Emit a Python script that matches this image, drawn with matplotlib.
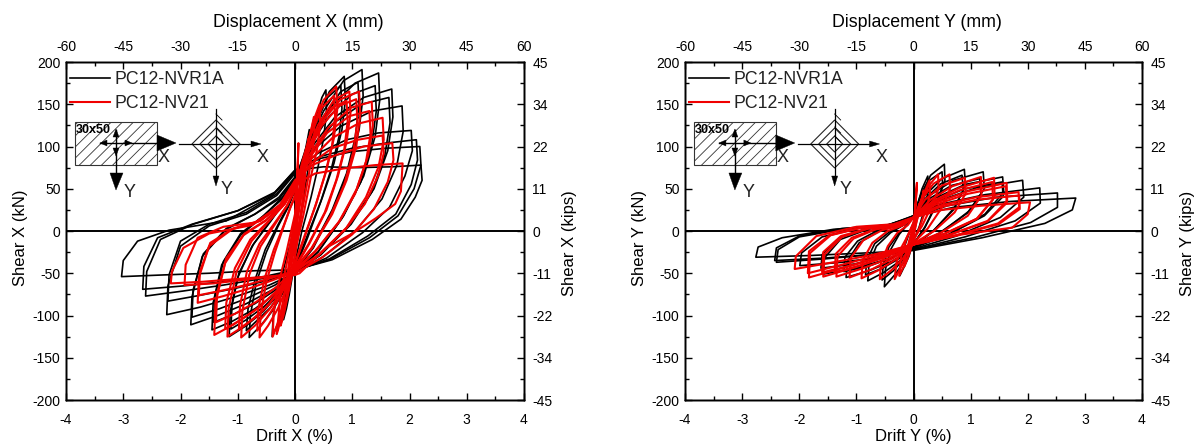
import matplotlib
matplotlib.use('Agg')
import matplotlib.pyplot as plt
from matplotlib.patches import Rectangle, Polygon

plt.rcParams['font.family'] = ['Liberation Sans', 'DejaVu Sans']
plt.rcParams['axes.unicode_minus'] = False
plt.rcParams['hatch.linewidth'] = 0.6
plt.rcParams['hatch.color'] = '#555555'

series_names = ['PC12-NVR1A', 'PC12-NV21']
drift_ticks = [-4, -3, -2, -1, 0, 1, 2, 3, 4]
disp_ticks = [-60, -45, -30, -15, 0, 15, 30, 45, 60]
shear_ticks = [-200, -150, -100, -50, 0, 50, 100, 150, 200]
kips_labels = ['-45', '-34', '-22', '-11', '0', '11', '22', '34', '45']

# hysteresis loops, one row per cycle
drift_x_black = [
    [0, -.05, -.1, -.15, -.2, -.17, -.12, -.05, 0, .05, .1, .18, .25, .27, .22, .15, .08, 0],
    [0, -.1, -.2, -.3, -.4, -.38, -.3, -.18, -.07, 0, .1, .22, .35, .47, .54, .55, .5, .4, .28, .12, 0],
    [0, -.2, -.4, -.6, -.8, -.78, -.68, -.5, -.3, -.12, 0, .15, .35, .6, .86, .88, .82, .68, .48, .22, 0],
    [0, -.2, -.42, -.65, -.85, -.82, -.7, -.52, -.3, -.12, 0, .15, .33, .57, .8, .82, .77, .64, .45, .2, 0],
    [0, -.25, -.55, -.85, -1.15, -1.13, -1, -.75, -.45, -.18, 0, .2, .5, .85, 1.17, 1.19, 1.12, .95, .68, .32, 0],
    [0, -.25, -.55, -.85, -1.12, -1.1, -.98, -.72, -.42, -.18, 0, .2, .48, .8, 1.1, 1.12, 1.05, .9, .65, .3, 0],
    [0, -.3, -.7, -1.1, -1.45, -1.43, -1.28, -.95, -.55, -.22, 0, .25, .6, 1.05, 1.46, 1.48, 1.4, 1.2, .85, .4, 0],
    [0, -.3, -.7, -1.05, -1.42, -1.4, -1.25, -.95, -.55, -.22, 0, .25, .6, 1, 1.4, 1.42, 1.34, 1.15, .82, .4, 0],
    [0, -.35, -.85, -1.35, -1.82, -1.8, -1.62, -1.2, -.7, -.28, 0, .3, .7, 1.2, 1.69, 1.71, 1.62, 1.38, .98, .45, 0],
    [0, -.35, -.85, -1.32, -1.8, -1.78, -1.6, -1.2, -.7, -.28, 0, .3, .68, 1.16, 1.64, 1.66, 1.57, 1.34, .95, .45, 0],
    [0, -.45, -1.05, -1.65, -2.24, -2.22, -2, -1.5, -.85, -.32, 0, .35, .8, 1.35, 1.87, 1.89, 1.78, 1.52, 1.08, .5, 0],
    [0, -.45, -1.05, -1.65, -2.22, -2.2, -2, -1.5, -.85, -.32, 0, .4, .9, 1.45, 2.03, 2.05, 1.92, 1.65, 1.18, .55, 0],
    [0, -.55, -1.25, -1.95, -2.66, -2.64, -2.4, -1.8, -1, -.35, 0, .45, 1, 1.6, 2.18, 2.2, 2.08, 1.8, 1.3, .6, 0],
    [0, -.55, -1.25, -1.95, -2.61, -2.59, -2.35, -1.78, -1, -.35, 0, .43, 1, 1.58, 2.12, 2.14, 2.03, 1.76, 1.27, .6, 0],
    [0, -.7, -1.5, -2.3, -3.03, -3, -2.75, -2.2, -1.2, -.4, 0, .5, 1.1, 1.7, 2.2, 2.22, 2.1, 1.85, 1.35, .65, 0],
]
shear_x_black = [
    [-30, -55, -75, -92, -105, -75, -50, -20, 5, 35, 60, 95, 120, 100, 70, 40, 10, -30],
    [-38, -65, -90, -110, -125, -100, -70, -40, -12, 12, 50, 92, 130, 158, 167, 140, 110, 75, 40, 0, -38],
    [-45, -72, -95, -112, -126, -100, -62, -25, 5, 28, 48, 85, 125, 165, 183, 155, 120, 80, 40, -8, -45],
    [-42, -68, -90, -105, -118, -92, -58, -22, 7, 30, 50, 84, 122, 158, 172, 145, 112, 75, 35, -8, -42],
    [-48, -72, -95, -112, -125, -95, -55, -18, 10, 35, 58, 100, 142, 178, 191, 160, 120, 75, 28, -20, -48],
    [-46, -70, -90, -105, -116, -88, -50, -15, 12, 35, 56, 95, 134, 165, 176, 148, 110, 68, 25, -20, -46],
    [-50, -72, -92, -107, -117, -85, -40, -5, 18, 40, 62, 105, 145, 175, 187, 155, 112, 65, 18, -25, -50],
    [-48, -68, -86, -98, -108, -78, -36, -3, 18, 38, 60, 100, 136, 162, 172, 142, 102, 58, 15, -25, -48],
    [-50, -68, -86, -100, -111, -78, -30, 2, 20, 40, 64, 100, 135, 158, 168, 135, 95, 50, 8, -28, -50],
    [-48, -64, -80, -92, -102, -70, -27, 3, 20, 38, 62, 96, 128, 150, 158, 128, 90, 46, 7, -28, -48],
    [-50, -64, -78, -90, -99, -65, -18, 6, 20, 42, 68, 98, 124, 142, 148, 118, 78, 38, 2, -30, -50],
    [-48, -58, -68, -76, -83, -52, -12, 8, 22, 44, 70, 92, 108, 116, 119, 95, 65, 28, -2, -32, -48],
    [-46, -54, -60, -65, -69, -42, -8, 8, 24, 46, 72, 86, 94, 98, 100, 78, 50, 18, -8, -34, -46],
    [-47, -56, -64, -71, -77, -48, -10, 8, 24, 45, 71, 88, 98, 104, 108, 84, 55, 20, -6, -33, -47],
    [-46, -47, -50, -52, -54, -35, -12, 1, 12, 42, 72, 76, 75, 76, 78, 60, 40, 14, -10, -34, -46],
]
drift_x_red = [
    [0, -.04, -.08, -.05, 0, .05, .1, .12, .08, .03, 0],
    [0, -.05, -.1, -.15, -.12, -.06, 0, .05, .1, .16, .18, .12, .06, 0],
    [0, -.06, -.12, -.2, -.25, -.2, -.12, -.05, 0, .06, .14, .2, .24, .2, .12, .05, 0],
    [0, -.1, -.2, -.3, -.32, -.25, -.12, 0, .1, .22, .33, .34, .25, .12, 0],
    [0, .06, .04, 0, -.08, -.18, -.28, -.39, -.37, -.28, -.15, -.05, 0, .1, .2, .32, .43, .44, .38, .28, .15, 0],
    [0, -.15, -.3, -.47, -.62, -.6, -.5, -.35, -.2, -.08, 0, .12, .28, .5, .72, .74, .68, .55, .38, .18, 0],
    [0, -.16, -.33, -.5, -.66, -.64, -.53, -.37, -.2, -.08, 0, .12, .27, .47, .68, .7, .65, .52, .36, .17, 0],
    [0, -.22, -.45, -.7, -.94, -.92, -.8, -.6, -.35, -.14, 0, .17, .4, .68, .95, .97, .9, .75, .55, .25, 0],
    [0, -.23, -.47, -.73, -.98, -.96, -.84, -.62, -.36, -.14, 0, .16, .38, .64, .9, .92, .86, .72, .52, .24, 0],
    [0, -.27, -.57, -.88, -1.18, -1.16, -1.02, -.76, -.45, -.18, 0, .2, .48, .8, 1.12, 1.14, 1.07, .9, .65, .3, 0],
    [0, -.28, -.6, -.92, -1.22, -1.2, -1.05, -.78, -.46, -.18, 0, .2, .46, .77, 1.07, 1.09, 1.02, .86, .62, .29, 0],
    [0, -.32, -.7, -1.08, -1.41, -1.39, -1.22, -.9, -.52, -.2, 0, .25, .58, .98, 1.34, 1.36, 1.28, 1.08, .78, .36, 0],
    [0, -.32, -.68, -1.05, -1.38, -1.36, -1.2, -.88, -.5, -.2, 0, .25, .56, .95, 1.3, 1.32, 1.24, 1.05, .76, .35, 0],
    [0, -.38, -.8, -1.25, -1.7, -1.68, -1.5, -1.1, -.62, -.25, 0, .28, .65, 1.1, 1.53, 1.55, 1.46, 1.24, .9, .42, 0],
    [0, -.38, -.8, -1.24, -1.68, -1.66, -1.48, -1.08, -.6, -.25, 0, .28, .65, 1.1, 1.53, 1.55, 1.45, 1.22, .88, .42, 0],
    [0, -.42, -.92, -1.42, -1.93, -1.91, -1.7, -1.25, -.7, -.27, 0, .3, .72, 1.2, 1.7, 1.72, 1.62, 1.38, 1, .46, 0],
    [0, -.5, -1.05, -1.6, -2.17, -2.15, -1.95, -1.5, -.75, -.28, 0, .35, .85, 1.4, 1.88, 1.85, 1.75, 1.41, 1, .54, .08, 0],
]
shear_x_red = [
    [-5, -25, -40, -15, 15, 40, 55, 65, 35, 10, -5],
    [-15, -35, -55, -72, -45, -15, 10, 35, 60, 85, 65, 30, 5, -15],
    [-30, -55, -75, -100, -112, -80, -50, -20, 5, 32, 70, 95, 110, 80, 45, 15, -30],
    [-28, -62, -92, -118, -122, -75, -30, 15, 55, 100, 135, 112, 70, 22, -28],
    [-25, 104, 60, 15, -35, -75, -105, -125, -95, -60, -25, 5, 20, 60, 95, 130, 150, 125, 95, 65, 20, -25],
    [-40, -68, -92, -112, -126, -98, -60, -25, 5, 28, 42, 80, 118, 155, 171, 145, 110, 72, 35, -5, -40],
    [-38, -64, -86, -104, -118, -92, -56, -22, 6, 28, 40, 76, 112, 146, 160, 136, 102, 66, 30, -5, -38],
    [-44, -70, -93, -112, -126, -95, -52, -18, 8, 30, 50, 88, 125, 155, 165, 140, 105, 65, 25, -15, -44],
    [-42, -66, -88, -104, -116, -88, -48, -15, 9, 30, 48, 84, 118, 146, 154, 130, 96, 60, 22, -15, -42],
    [-46, -72, -95, -112, -125, -92, -48, -12, 12, 32, 54, 92, 130, 156, 165, 138, 100, 60, 20, -20, -46],
    [-44, -68, -89, -104, -116, -85, -44, -10, 12, 32, 52, 88, 124, 148, 156, 130, 94, 55, 18, -20, -44],
    [-48, -72, -94, -111, -123, -85, -38, -5, 12, 32, 56, 90, 122, 146, 153, 125, 90, 50, 12, -24, -48],
    [-46, -66, -84, -98, -108, -74, -32, -3, 13, 32, 54, 86, 116, 136, 142, 115, 82, 44, 10, -24, -46],
    [-48, -58, -68, -77, -85, -55, -18, 2, 12, 32, 58, 85, 110, 127, 134, 108, 76, 40, 4, -28, -48],
    [-47, -55, -63, -70, -76, -48, -14, 3, 12, 31, 56, 80, 98, 108, 113, 92, 65, 32, 2, -28, -47],
    [-50, -54, -58, -62, -64, -40, -8, 5, 10, 30, 60, 78, 90, 100, 104, 84, 58, 26, -4, -32, -50],
    [-52, -54, -57, -60, -62, -48, -20, -3, 7, 27, 55, 68, 74, 78, 80, 47, 32, 15, -3, -20, -50, -52],
]
drift_y_black = [
    [0, -.08, -.16, -.24, -.22, -.14, -.06, 0, .06, .15, .25, .26, .2, .1, 0],
    [0, -.16, -.33, -.51, -.49, -.4, -.25, -.1, 0, .12, .3, .54, .55, .42, .2, 0],
    [0, -.17, -.35, -.55, -.53, -.43, -.26, -.1, 0, .11, .28, .5, .51, .4, .2, 0],
    [0, -.25, -.52, -.8, -.78, -.65, -.4, -.15, 0, .2, .5, .89, .91, .72, .35, 0],
    [0, -.26, -.54, -.84, -.82, -.68, -.42, -.15, 0, .2, .48, .85, .87, .7, .34, 0],
    [0, -.38, -.78, -1.18, -1.16, -.95, -.6, -.22, 0, .28, .7, 1.22, 1.24, .98, .48, 0],
    [0, -.39, -.8, -1.22, -1.2, -.98, -.62, -.22, 0, .27, .67, 1.16, 1.18, .94, .46, 0],
    [0, -.5, -1, -1.58, -1.56, -1.28, -.8, -.3, 0, .35, .9, 1.56, 1.58, 1.25, .62, 0],
    [0, -.52, -1.03, -1.62, -1.6, -1.3, -.82, -.3, 0, .35, .9, 1.55, 1.57, 1.24, .62, 0],
    [0, -.6, -1.25, -1.99, -1.96, -1.6, -1, -.38, 0, .45, 1.1, 1.91, 1.93, 1.52, .75, 0],
    [0, -.75, -1.55, -2.43, -2.4, -2, -1.25, -.45, 0, .5, 1.25, 2.21, 2.22, 1.78, .9, 0],
    [0, -.75, -1.55, -2.4, -2.37, -2, -1.25, -.45, 0, .6, 1.45, 2.52, 2.52, 2.05, 1.05, 0],
    [0, -.85, -1.8, -2.76, -2.72, -2.3, -1.4, -.5, 0, .7, 1.7, 2.84, 2.78, 2.3, 1.2, 0],
]
shear_y_black = [
    [-12, -30, -42, -53, -35, -15, 0, 10, 28, 50, 65, 48, 28, 5, -12],
    [-16, -36, -52, -66, -45, -22, -4, 8, 18, 42, 66, 79, 60, 35, 5, -16],
    [-15, -33, -47, -58, -40, -19, -3, 8, 17, 38, 60, 70, 54, 31, 4, -15],
    [-18, -36, -49, -59, -40, -18, -2, 8, 18, 42, 62, 73, 54, 28, 0, -18],
    [-17, -33, -44, -52, -35, -15, -1, 8, 17, 38, 56, 66, 48, 25, 0, -17],
    [-20, -36, -47, -55, -36, -14, 0, 8, 18, 42, 60, 70, 50, 24, -2, -20],
    [-19, -32, -42, -48, -31, -12, 1, 8, 17, 38, 54, 62, 44, 21, -2, -19],
    [-20, -34, -44, -51, -32, -10, 2, 8, 18, 38, 55, 64, 46, 20, -4, -20],
    [-19, -30, -39, -44, -28, -8, 3, 8, 17, 35, 50, 58, 41, 18, -4, -19],
    [-21, -31, -37, -41, -26, -7, 3, 8, 18, 36, 51, 60, 40, 16, -6, -21],
    [-22, -28, -32, -35, -20, -6, 3, 7, 18, 32, 43, 51, 33, 12, -7, -22],
    [-22, -28, -33, -37, -22, -7, 2, 7, 17, 30, 40, 45, 28, 10, -8, -22],
    [-23, -26, -29, -31, -19, -8, 2, 6, 17, 28, 35, 39, 25, 9, -8, -23],
]
drift_y_red = [
    [0, -.03, -.07, -.1, -.07, 0, .04, .08, .1, .07, .03, 0],
    [0, -.05, -.1, -.16, -.13, -.06, 0, .05, .1, .16, .18, .12, .05, 0],
    [0, -.1, -.18, -.25, -.22, -.12, 0, .1, .18, .28, .29, .2, .1, 0],
    [0, .06, .04, 0, -.1, -.2, -.33, -.3, -.2, -.08, 0, .1, .25, .43, .44, .32, .15, 0],
    [0, -.18, -.38, -.59, -.57, -.45, -.28, -.1, 0, .15, .35, .63, .64, .5, .25, 0],
    [0, -.3, -.6, -.91, -.89, -.72, -.45, -.17, 0, .2, .5, .9, .91, .72, .36, 0],
    [0, -.35, -.72, -1.12, -1.1, -.88, -.55, -.2, 0, .28, .68, 1.18, 1.19, .95, .48, 0],
    [0, -.42, -.88, -1.35, -1.33, -1.05, -.66, -.25, 0, .33, .8, 1.41, 1.42, 1.12, .55, 0],
    [0, -.43, -.9, -1.38, -1.36, -1.08, -.68, -.25, 0, .33, .8, 1.38, 1.39, 1.1, .55, 0],
    [0, -.5, -1.02, -1.58, -1.56, -1.25, -.78, -.3, 0, .38, .95, 1.63, 1.64, 1.3, .65, 0],
    [0, -.51, -1.04, -1.6, -1.58, -1.27, -.8, -.3, 0, .38, .95, 1.62, 1.63, 1.29, .65, 0],
    [0, -.58, -1.2, -1.83, -1.81, -1.45, -.9, -.35, 0, .45, 1.1, 1.84, 1.85, 1.48, .75, 0],
    [0, -.58, -1.2, -1.85, -1.83, -1.47, -.92, -.35, 0, .45, 1.1, 1.85, 1.86, 1.49, .75, 0],
    [0, -.7, -1.4, -2.08, -2.06, -1.7, -1, -.35, 0, .5, 1.2, 2.04, 2, 1.73, .86, 0],
]
shear_y_red = [
    [-3, -12, -22, -28, -12, 3, 14, 24, 32, 16, 5, -3],
    [-8, -22, -32, -42, -25, -8, 5, 18, 30, 42, 48, 28, 10, -8],
    [-11, -30, -43, -53, -32, -8, 10, 28, 44, 60, 43, 22, 3, -11],
    [-10, 57, 35, 8, -22, -40, -57, -38, -18, -3, 8, 28, 52, 67, 50, 30, 6, -10],
    [-14, -32, -46, -57, -38, -18, -2, 7, 16, 38, 56, 67, 50, 28, 3, -14],
    [-15, -33, -46, -56, -35, -14, 0, 7, 16, 37, 54, 63, 44, 22, 0, -15],
    [-15, -32, -45, -55, -32, -11, 1, 7, 16, 36, 53, 64, 42, 18, -2, -15],
    [-16, -32, -44, -54, -30, -9, 2, 7, 16, 35, 51, 63, 40, 15, -3, -16],
    [-15, -29, -40, -49, -27, -8, 2, 7, 15, 33, 48, 58, 37, 14, -3, -15],
    [-16, -31, -43, -54, -28, -7, 3, 7, 16, 33, 47, 57, 36, 12, -4, -16],
    [-15, -28, -40, -49, -25, -6, 3, 7, 15, 31, 44, 53, 33, 11, -4, -15],
    [-16, -31, -43, -55, -26, -5, 4, 7, 16, 30, 40, 46, 28, 9, -5, -16],
    [-15, -28, -39, -50, -24, -5, 4, 7, 15, 28, 37, 42, 26, 8, -5, -15],
    [-16, -28, -37, -45, -30, -6, 5, 8, 16, 25, 30, 34, 20, 4, -4, -16],
]


def to_axes(px, py):
    # inset was laid out in pixels of the left panel
    return (px - 66) / 458, (400 - py) / 338


def draw_inset(ax):
    t = ax.transAxes
    x0, y0 = to_axes(75, 165)
    x1, y1 = to_axes(157, 122)
    ax.add_patch(Rectangle((x0, y0), x1 - x0, y1 - y0, transform=t, fc='white', ec='#333333',
                           lw=0.8, hatch='///', zorder=5))
    ax.text(*to_axes(76, 130), '30x50', transform=t, fontsize=9, fontweight='bold', va='center', zorder=7)

    def seg(a, b, lw=1.0):
        p, q = to_axes(*a), to_axes(*b)
        ax.plot([p[0], q[0]], [p[1], q[1]], color='black', lw=lw, transform=t, zorder=6, clip_on=False)

    def head(tip, base1, base2):
        pts = [to_axes(*tip), to_axes(*base1), to_axes(*base2)]
        ax.add_patch(Polygon(pts, closed=True, fc='black', ec='black', lw=0.3, transform=t, zorder=6))

    # section arrows
    seg((100, 143), (160, 143))
    head((176, 143), (157, 135), (157, 151))
    seg((116, 130), (116, 175))
    head((116, 190), (110, 173), (123, 173))
    head((100, 143), (107, 140), (107, 146))
    head((132, 143), (125, 140), (125, 146))
    head((116, 129), (113, 137), (119, 137))
    head((116, 156), (113, 148), (119, 148))

    # load path
    for half in [24, 16, 8]:
        pts = [to_axes(216, 144 - half), to_axes(216 + half, 144), to_axes(216, 144 + half),
               to_axes(216 - half, 144)]
        ax.add_patch(Polygon(pts, closed=True, fc='none', ec='#222222', lw=0.8, transform=t, zorder=6))
    seg((179, 144), (255, 144), 0.9)
    head((261, 144), (251, 141), (251, 147))
    seg((216, 109), (216, 178), 0.9)
    head((216, 186), (213, 176), (219, 176))
    for k in [118, 131, 140]:
        seg((216, k - 4), (222, k + 2), 0.6)

    for pos, s in [((164, 157), 'X'), ((130, 192), 'Y'), ((263, 157), 'X'), ((227, 189), 'Y')]:
        ax.text(*to_axes(*pos), s, transform=t, fontsize=13, color='#222222', ha='center', va='center', zorder=7)


def plot_panel(fig, rect, name, dx_black, sy_black, dx_red, sy_red):
    ax = fig.add_axes(rect)
    for i in range(len(dx_black)):
        ax.plot(dx_black[i], sy_black[i], color='black', lw=1.2, zorder=2,
                label=series_names[0] if i == 0 else None)
    for i in range(len(dx_red)):
        ax.plot(dx_red[i], sy_red[i], color='#f00000', lw=1.5, zorder=3,
                label=series_names[1] if i == 0 else None)
    ax.axhline(0, color='black', lw=1.4, zorder=1)
    ax.axvline(0, color='black', lw=1.4, zorder=1)

    ax.set_xlim(-4, 4)
    ax.set_ylim(-200, 200)
    ax.set_xticks(drift_ticks)
    ax.set_yticks(shear_ticks)
    ax.set_xticks([d + .5 for d in drift_ticks[:-1]], minor=True)
    ax.set_yticks([s + 25 for s in shear_ticks[:-1]], minor=True)
    ax.set_xlabel('Drift %s (%%)' % name, fontsize=12)
    ax.set_ylabel('Shear %s (kN)' % name, fontsize=12)
    ax.xaxis.set_label_coords(.5, -.085)
    ax.yaxis.set_label_coords(-.083, .479)

    top = ax.twiny()
    top.set_xlim(-60, 60)
    top.set_xticks(disp_ticks)
    top.set_xticks([d + 7.5 for d in disp_ticks[:-1]], minor=True)
    top.set_xlabel('Displacement %s (mm)' % name, fontsize=12.8)
    top.xaxis.set_label_coords(.507, 1.104)

    right = ax.twinx()
    right.set_ylim(-200, 200)
    right.set_yticks(shear_ticks)
    right.set_yticklabels(kips_labels)
    right.set_yticks([s + 25 for s in shear_ticks[:-1]], minor=True)
    right.set_ylabel('Shear %s (kips)' % name, fontsize=12)
    right.yaxis.set_label_coords(1.083, .464)

    for a in [ax, top, right]:
        a.tick_params(which='major', direction='in', length=5, width=1, labelsize=10)
        a.tick_params(which='minor', direction='in', length=3, width=1)
        for sp in a.spines.values():
            sp.set_linewidth(1.0)
    ax.tick_params(axis='x', pad=9)
    ax.tick_params(axis='y', pad=4)
    top.tick_params(axis='x', pad=6)
    right.tick_params(axis='y', pad=6)

    ax.legend(loc='upper left', bbox_to_anchor=(0, .986), frameon=False, fontsize=12.8, handlelength=2.2,
              handletextpad=0.3, labelspacing=0.37, borderaxespad=0, borderpad=0.25, labelcolor='#222222')
    ax.set_zorder(right.get_zorder() + 1)
    ax.patch.set_visible(False)
    draw_inset(ax)
    return ax


fig = plt.figure(figsize=(12, 4.46), dpi=100)
w, h = 458 / 1200, 338 / 446
plot_panel(fig, [66 / 1200, 46 / 446, w, h], 'X', drift_x_black, shear_x_black, drift_x_red, shear_x_red)
plot_panel(fig, [685 / 1200, 46 / 446, 457 / 1200, h], 'Y', drift_y_black, shear_y_black, drift_y_red, shear_y_red)
fig.savefig('out.png', dpi=100)
